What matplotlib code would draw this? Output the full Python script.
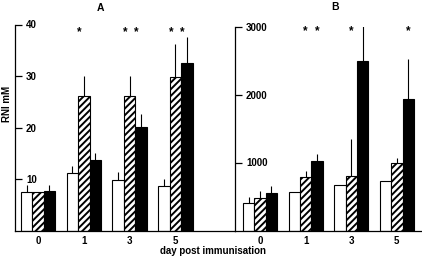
import matplotlib
matplotlib.use('Agg')
import matplotlib.pyplot as plt
import numpy as np

plt.rcParams['font.family'] = ['Liberation Sans', 'DejaVu Sans']
plt.rcParams['font.weight'] = 'bold'
plt.rcParams['hatch.linewidth'] = 1.4

days = ['0', '1', '3', '5']

# panel A (RNI mM)
a_white = [7.4, 11.1, 9.9, 8.7]
a_white_err = [1.4, 1.5, 1.4, 1.3]
a_hatch = [7.4, 26.1, 26.1, 29.9]
a_hatch_err = [0.0, 3.9, 3.9, 6.4]
a_black = [7.6, 13.7, 20.1, 32.6]
a_black_err = [1.2, 1.3, 2.5, 4.9]
a_stars = [(1, 'h'), (2, 'h'), (2, 'b'), (3, 'h'), (3, 'b')]

# panel B
b_white = [400, 566, 673, 732]
b_white_err = [88, 0, 0, 0]
b_hatch = [478, 780, 805, 1000]
b_hatch_err = [107, 88, 536, 73]
b_black = [551, 1020, 2498, 1927]
b_black_err = [103, 102, 520, 595]
b_stars = [(1, 'h'), (1, 'b'), (2, 'h'), (3, 'b')]

W, H = 422, 259
fig = plt.figure(figsize=(W / 100, H / 100), dpi=100)
axA = fig.add_axes([15 / W, (H - 230.5) / H, 220 / W, 206 / H])
axB = fig.add_axes([235 / W, (H - 230.5) / H, 186 / W, 204 / H])

w = 0.25
fs = 7


def draw(ax, white, werr, hatch, herr, black, berr, stars, star_y, star_dx, yt):
    x = np.arange(len(days))
    ek = dict(ecolor='black', elinewidth=0.8, capsize=0)
    z = np.zeros(len(days))
    ax.bar(x - w, white, w, color='white', edgecolor='black', linewidth=0.8,
           yerr=[z, werr], error_kw=ek)
    ax.bar(x, hatch, w, color='white', edgecolor='black', linewidth=0.8,
           hatch='/////', yerr=[z, herr], error_kw=ek)
    ax.bar(x + w, black, w, color='black', edgecolor='black', linewidth=0.8,
           yerr=[z, berr], error_kw=ek)
    for g, s in stars:
        xs = g + (0 if s == 'h' else w) + star_dx
        ax.text(xs, star_y, '*', ha='center', va='center', fontsize=8.5, fontweight='bold')
    ax.spines['top'].set_visible(False)
    ax.spines['right'].set_visible(False)
    for sp in ax.spines.values():
        sp.set_linewidth(0.9)
    ax.set_xticks(x)
    ax.set_xticklabels(days, fontsize=fs, fontweight='bold')
    ax.tick_params(axis='x', length=0, pad=4)
    ax.set_yticks(yt)
    ax.set_yticklabels([str(v) for v in yt], fontsize=fs, fontweight='bold', ha='left')
    ax.tick_params(axis='y', direction='in', length=5, width=0.9, pad=-8)


draw(axA, a_white, a_white_err, a_hatch, a_hatch_err, a_black, a_black_err,
     a_stars, 38.5, -0.1, [10, 20, 30, 40])
axA.set_xlim(-0.502, 4.30)
axA.set_ylim(0, 40)

draw(axB, b_white, b_white_err, b_hatch, b_hatch_err, b_black, b_black_err,
     b_stars, 2934, 0.0, [1000, 2000, 3000])
axB.set_xlim(-0.55, 3.53)
axB.set_ylim(0, 3000)

fig.text(100 / W, 1 - 8 / H, 'A', ha='center', va='center', fontsize=7.5, fontweight='bold')
fig.text(335 / W, 1 - 7 / H, 'B', ha='center', va='center', fontsize=7.5, fontweight='bold')
fig.text(6.5 / W, 1 - 104 / H, 'RNI mM', rotation=90, ha='center', va='center',
         fontsize=fs, fontweight='bold')
fig.text(213 / W, 1 - 251 / H, 'day post immunisation', ha='center', va='center',
         fontsize=fs, fontweight='bold')

fig.savefig('out.png', dpi=100)
